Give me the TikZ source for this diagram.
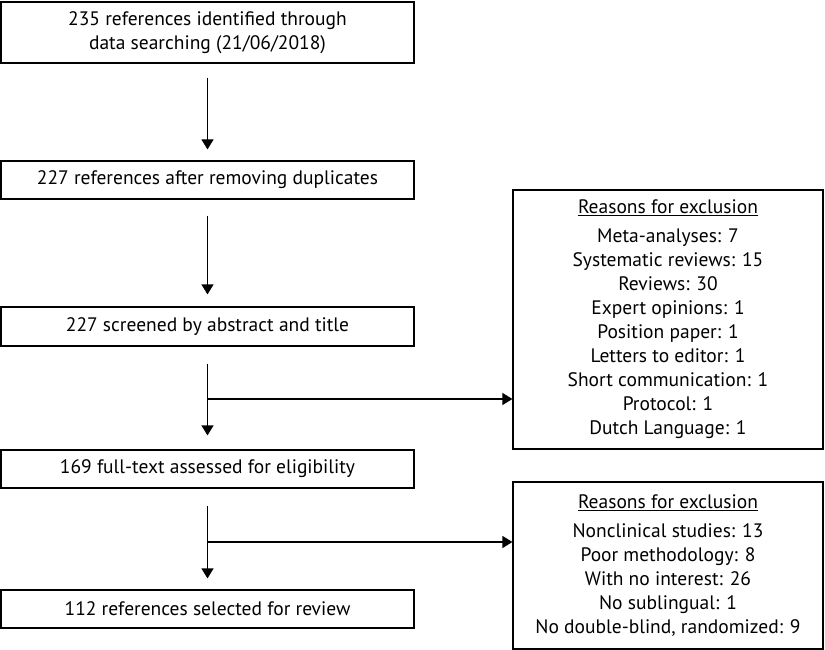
\documentclass[tikz,border=0pt]{standalone}
\usepackage{fontspec}
\setmainfont{PT Sans}
\usetikzlibrary{arrows.meta,shapes,positioning}

\tikzset{
    flowbox/.style={draw, line width=1.2pt, minimum width=413pt, minimum height=38pt,
        inner sep=0pt, align=center, font=\fontsize{19.5}{24}\selectfont},
    reasonbox/.style={draw, line width=1.2pt, minimum width=310pt, inner sep=0pt,
        align=center, font=\fontsize{19.5}{24}\selectfont},
    flowarrow/.style={-{Triangle[length=10pt,width=12pt]}, line width=1.2pt},
}

\begin{document}
\begin{tikzpicture}[x=1pt,y=-1pt]
    \useasboundingbox (0,0) rectangle (825,650);

    % main column
    \node[flowbox, minimum height=61pt] (search) at (207.5,32.5)
        {235 references identified through\\data searching (21/06/2018)};
    \node[flowbox] (dedup) at (207.5,180) {227 references after removing duplicates};
    \node[flowbox, minimum height=39pt] (screen) at (207.5,326.5) {227 screened by abstract and title};
    \node[flowbox] (fulltext) at (207.5,469) {169 full-text assessed for eligibility};
    \node[flowbox] (selected) at (207.5,609) {112 references selected for review};

    % exclusion boxes on the right
    \node[reasonbox, minimum height=259pt] (excl1) at (668,319.5)
        {\underline{Reasons for exclusion}\\[5pt]
         Meta-analyses: 7\\
         Systematic reviews: 15\\
         Reviews: 30\\
         Expert opinions: 1\\
         Position paper: 1\\
         Letters to editor: 1\\
         Short communication: 1\\
         Protocol: 1\\
         Dutch Language: 1};
    \node[reasonbox, minimum height=167pt] (excl2) at (668,565.5)
        {\underline{Reasons for exclusion}\\[5pt]
         Nonclinical studies: 13\\
         Poor methodology: 8\\
         With no interest: 26\\
         No sublingual: 1\\
         No double-blind, randomized: 9};

    % vertical arrows
    \draw[flowarrow, shorten <=14pt, shorten >=11pt] (search) -- (dedup);
    \draw[flowarrow, shorten <=16pt, shorten >=12pt] (dedup) -- (screen);
    \draw[flowarrow, shorten <=17pt, shorten >=14pt] (screen) -- (fulltext);
    \draw[flowarrow, shorten <=17pt, shorten >=11pt] (fulltext) -- (selected);

    % branches to the exclusion boxes
    \coordinate (split1) at (207.5,399);
    \coordinate (split2) at (207.5,542);
    \draw[flowarrow] (split1) -- (split1 -| excl1.west);
    \draw[flowarrow] (split2) -- (split2 -| excl2.west);
\end{tikzpicture}
\end{document}
